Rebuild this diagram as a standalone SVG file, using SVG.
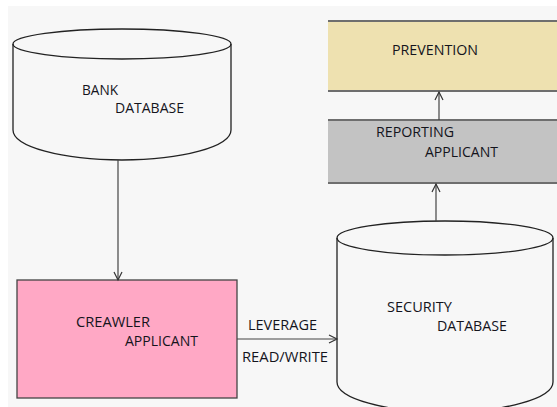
<svg xmlns="http://www.w3.org/2000/svg" width="557" height="407" viewBox="0 0 557 407">
<style>
.t{font-family:"Open Sans","Liberation Sans",Arial,sans-serif;font-size:14px;fill:#14141c}
.cyl{fill:none;stroke:#222;stroke-width:1.3}
.edge{stroke:#444;stroke-width:1.2;fill:none;marker-end:url(#ah)}
.band{stroke:#6e6e6e;stroke-width:2}
</style>
<defs>
<marker id="ah" markerWidth="12" markerHeight="12" refX="9" refY="5" orient="auto" markerUnits="userSpaceOnUse">
<path d="M1,1 L9,5 L1,9" fill="none" stroke="#333" stroke-width="1.2"/>
</marker>
</defs>
<rect x="0" y="0" width="557" height="407" fill="#ffffff"/>
<rect x="8" y="6" width="549" height="401" fill="#f7f7f7"/>

<g id="bank-db">
<ellipse class="cyl" cx="122" cy="44" rx="109" ry="15"/>
<path class="cyl" d="M13,44 L13,130 A109,30 0 0 0 231,130 L231,44"/>
<text class="t" x="82" y="95" textLength="36" lengthAdjust="spacingAndGlyphs">BANK</text>
<text class="t" x="115" y="113" textLength="69" lengthAdjust="spacingAndGlyphs">DATABASE</text>
</g>

<g id="crawler">
<rect x="17" y="280" width="220" height="118" fill="#ffa8c5" stroke="#444" stroke-width="1.3"/>
<text class="t" x="76" y="327" textLength="74" lengthAdjust="spacingAndGlyphs">CREAWLER</text>
<text class="t" x="125" y="346" textLength="73" lengthAdjust="spacingAndGlyphs">APPLICANT</text>
</g>

<g id="security-db">
<ellipse class="cyl" cx="445" cy="238" rx="108" ry="17"/>
<path class="cyl" d="M337,238 L337,382 A108,30 0 0 0 553,382 L553,238"/>
<text class="t" x="387" y="312" textLength="65" lengthAdjust="spacingAndGlyphs">SECURITY</text>
<text class="t" x="437" y="331" textLength="70" lengthAdjust="spacingAndGlyphs">DATABASE</text>
</g>

<g id="reporting">
<rect x="328" y="120" width="240" height="63" fill="#c3c3c3"/>
<line class="band" x1="328" y1="120" x2="557" y2="120"/>
<line class="band" x1="328" y1="183" x2="557" y2="183"/>
<text class="t" x="376" y="137" textLength="78" lengthAdjust="spacingAndGlyphs">REPORTING</text>
<text class="t" x="425" y="157" textLength="73" lengthAdjust="spacingAndGlyphs">APPLICANT</text>
</g>

<g id="prevention">
<rect x="328" y="21" width="240" height="70" fill="#eee1b0"/>
<line class="band" x1="328" y1="21" x2="557" y2="21"/>
<line class="band" x1="328" y1="91" x2="557" y2="91"/>
<text class="t" x="392" y="55" textLength="86" lengthAdjust="spacingAndGlyphs">PREVENTION</text>
</g>

<g id="connectors">
<line class="edge" x1="118" y1="160" x2="118" y2="280"/>
<line class="edge" x1="237" y1="339" x2="337" y2="339"/>
<line class="edge" x1="436" y1="221" x2="436" y2="184"/>
<line class="edge" x1="439" y1="120" x2="439" y2="92"/>
<text class="t" x="248" y="330" textLength="69" lengthAdjust="spacingAndGlyphs">LEVERAGE</text>
<text class="t" x="242" y="362" textLength="86" lengthAdjust="spacingAndGlyphs">READ/WRITE</text>
</g>
</svg>
